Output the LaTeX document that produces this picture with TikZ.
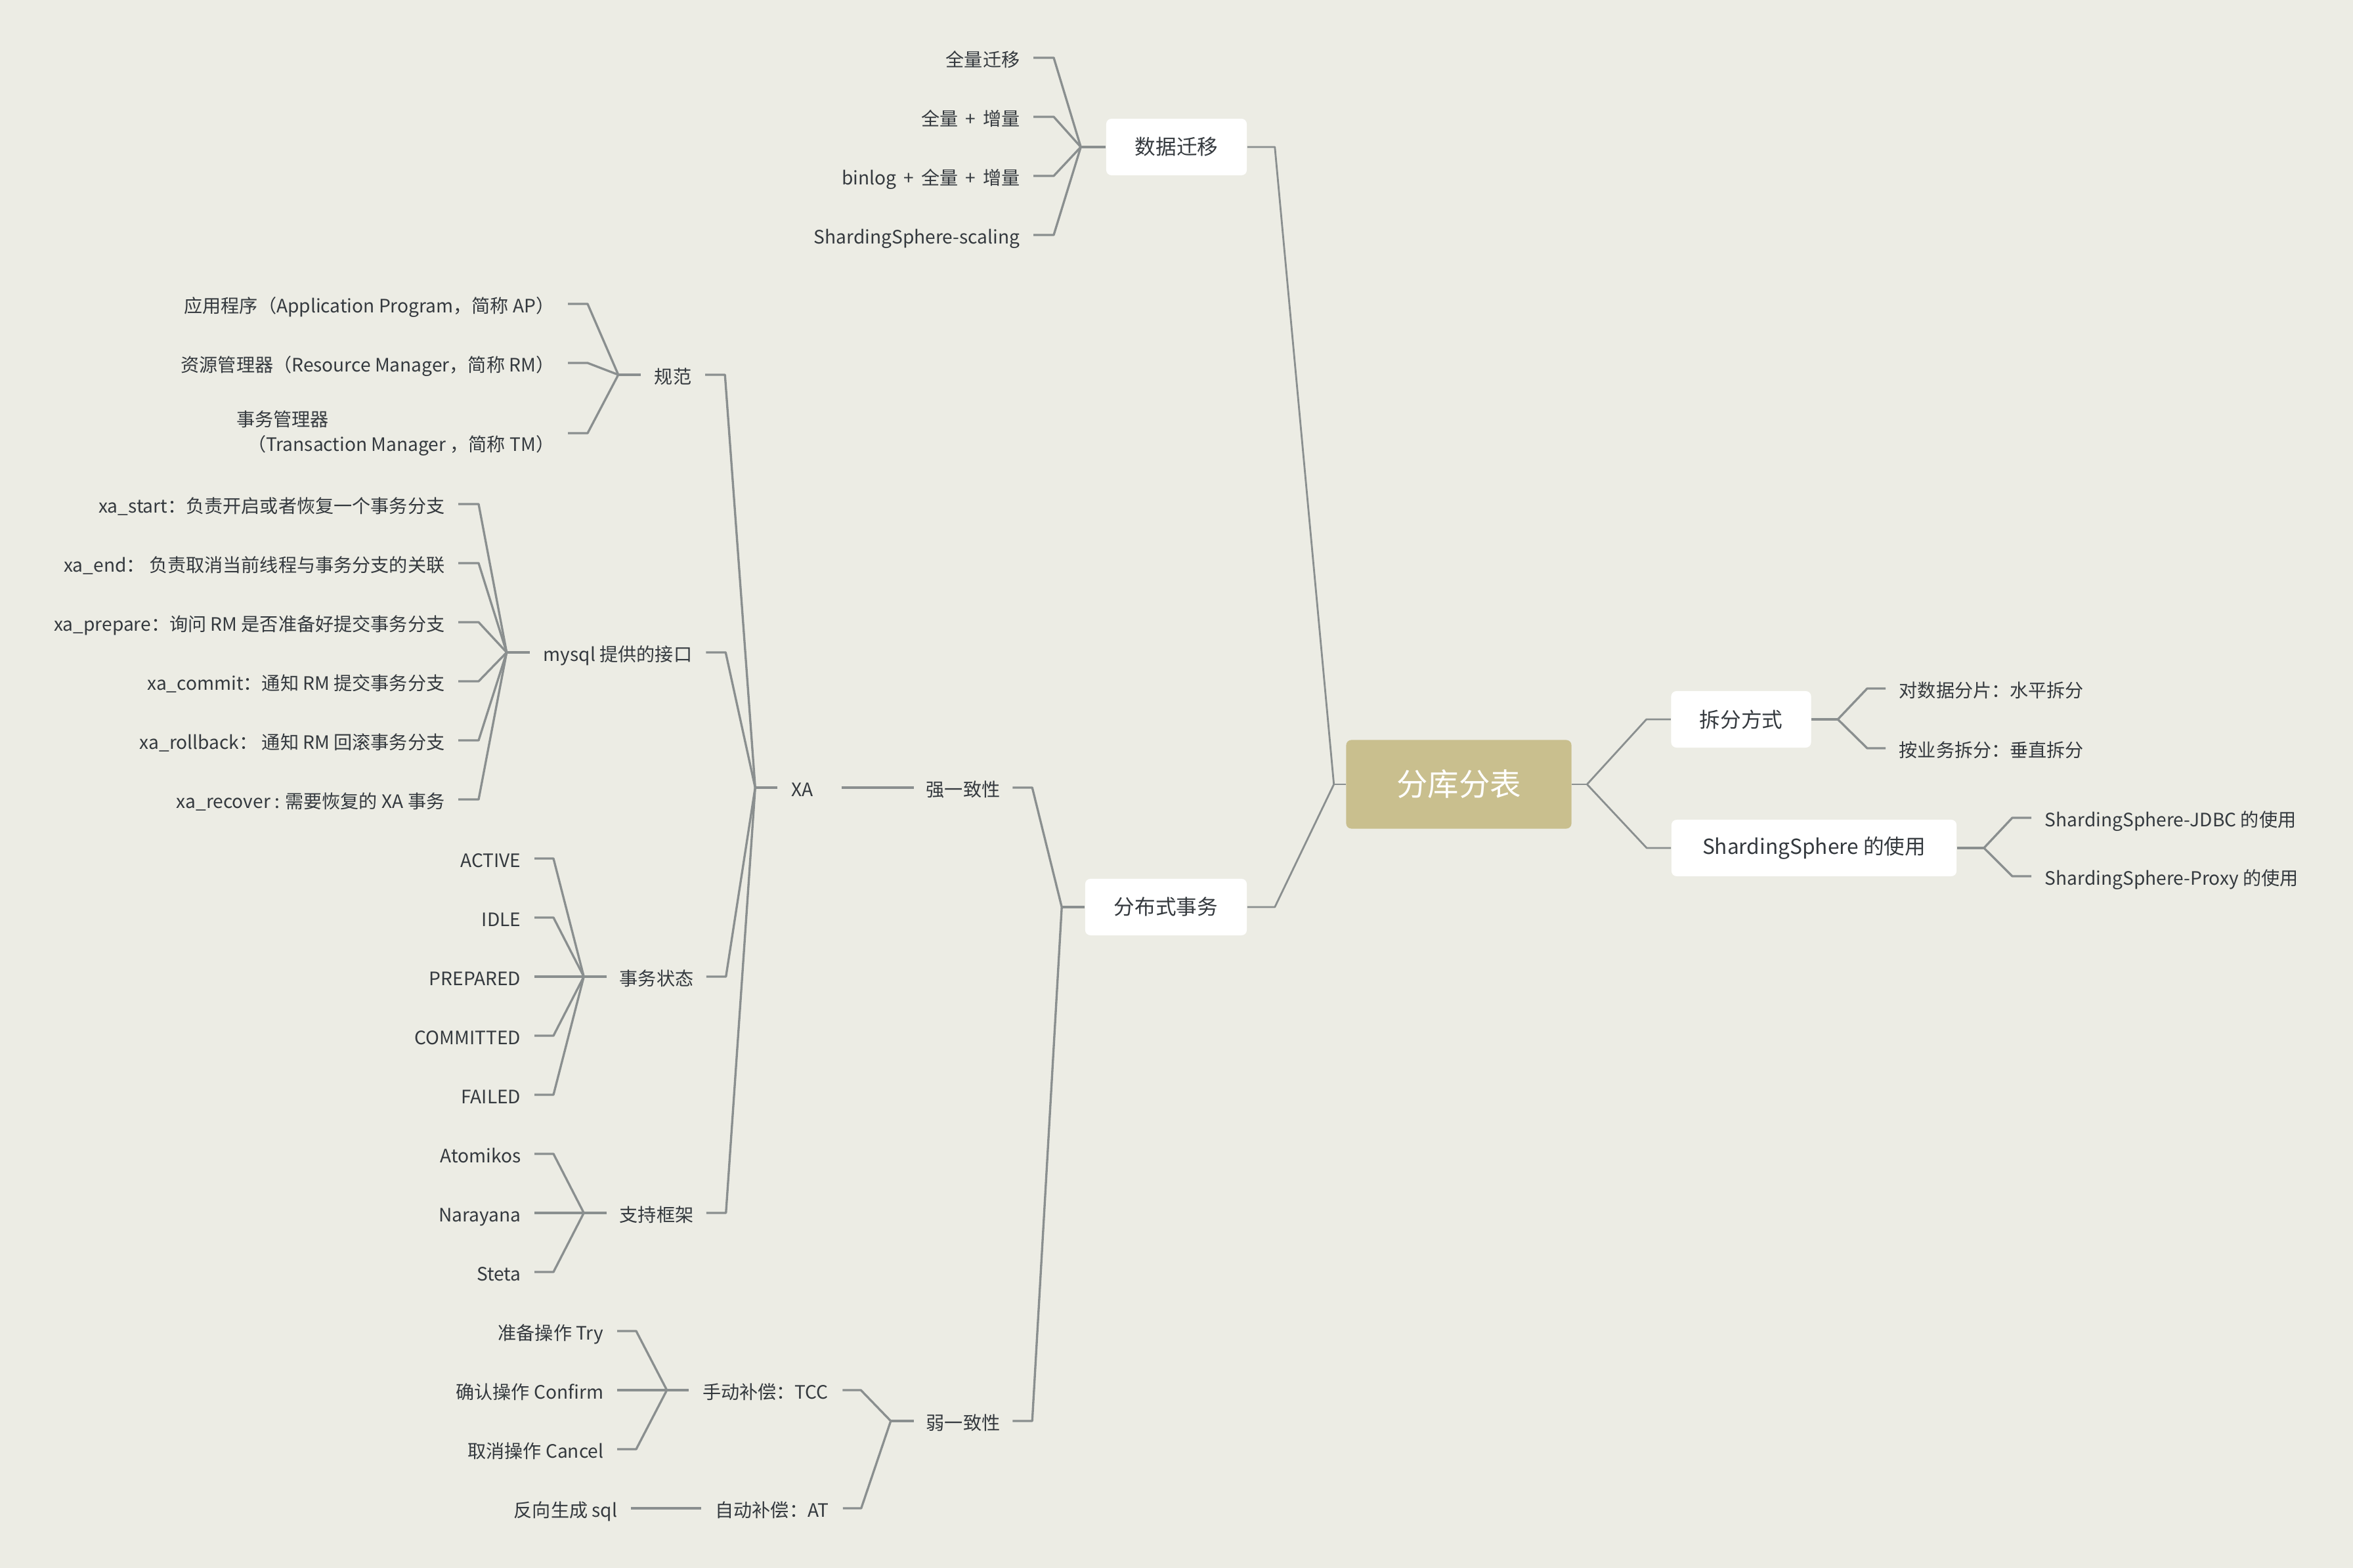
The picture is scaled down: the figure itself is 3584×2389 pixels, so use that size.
\documentclass[tikz,border=0pt]{standalone}
\usepackage{fontspec}
\setmainfont{Noto Sans CJK SC}
\usetikzlibrary{calc}
\definecolor{bgc}{RGB}{236,236,228}
\definecolor{linec}{RGB}{138,143,143}
\definecolor{txtc}{RGB}{52,57,62}
\definecolor{rootc}{RGB}{201,191,142}
\begin{document}
\begin{tikzpicture}[x=0.01cm,y=-0.01cm,
  conn/.style={draw=linec,line width=0.95pt,line join=round},
  mainconn/.style={draw=linec,line width=0.8pt,line join=round},
  txt/.style={inner ysep=0.05cm,text=txtc,font=\fontsize{8}{10.8}\selectfont,text height=0.8em,text depth=0.05em},
  leafL/.style={txt,inner xsep=0.2cm,anchor=east},
  leafR/.style={txt,inner xsep=0.2cm,anchor=west},
  mid/.style={txt,inner xsep=0.1cm},
  box/.style={fill=white,rounded corners=0.08cm,minimum height=0.86cm,inner xsep=0.3cm,text=txtc,font=\fontsize{9}{11}\selectfont},
  rootbox/.style={fill=rootc,rounded corners=0.08cm,minimum height=1.35cm,minimum width=3.43cm,text=white,font=\fontsize{13.5}{16}\selectfont}
]
\useasboundingbox (0,0) rectangle (3584,2389);
\fill[bgc] (0,0) rectangle (3584,2389);

% ---- root and boxes
\node[rootbox] (root) at (2222,1195) {分库分表};
\node[box,minimum width=2.14cm] (sjqy) at (1792,224) {数据迁移};
\node[box,minimum width=2.46cm] (fbs) at (1776,1382) {分布式事务};
\node[box,minimum width=2.13cm] (cffs) at (2652,1096) {拆分方式};
\node[box,minimum width=4.34cm] (ssuse) at (2763,1292) {ShardingSphere 的使用};

% ---- right leaves
\node[leafR] (c1) at (2872,1049) {对数据分片：水平拆分};
\node[leafR] (c2) at (2872,1140) {按业务拆分：垂直拆分};
\node[leafR] (s1) at (3094,1246) {ShardingSphere-JDBC 的使用};
\node[leafR] (s2) at (3094,1335) {ShardingSphere-Proxy 的使用};

% ---- data migration leaves
\node[leafL] (m1) at (1574,88) {全量迁移};
\node[leafL] (m2) at (1574,178) {全量\ \,+\ \,增量};
\node[leafL] (m3) at (1574,268) {binlog\ \,+\ \,全量\ \,+\ \,增量};
\node[leafL] (m4) at (1574,358) {ShardingSphere-scaling};

% ---- middle text nodes
\node[mid,minimum width=1.49cm] (qiang) at (1467,1200) {强一致性};
\node[mid,minimum width=1.49cm] (ruo) at (1467,2165) {弱一致性};
\node[mid,minimum width=0.74cm] (xa) at (1222,1200) {XA};
\node[mid,minimum width=0.97cm] (gf) at (1025,571) {规范};
\node[mid,minimum width=2.67cm] (mysql) at (941,994) {mysql 提供的接口};
\node[mid,minimum width=1.50cm] (zt) at (1000,1488) {事务状态};
\node[mid,minimum width=1.50cm] (kj) at (1000,1848) {支持框架};
\node[mid,minimum width=2.33cm] (tcc) at (1166,2118) {手动补偿：TCC};
\node[mid,minimum width=2.14cm] (at) at (1176,2298) {自动补偿：AT};

% ---- spec leaves
\node[leafL] (g1) at (865,463) {应用程序（Application Program，简称 AP）};
\node[leafL] (g2) at (865,553) {资源管理器（Resource Manager，简称 RM）};
\node[inner xsep=0.2cm,anchor=east,text=txtc,font=\fontsize{8}{10.8}\selectfont,align=left] (g3) at (865,660)
  {事务管理器\\\hspace*{0.17cm}（Transaction Manager ，简称 TM）};

% ---- mysql leaves
\node[leafL] (x1) at (698,768) {xa\_start：负责开启或者恢复一个事务分支};
\node[leafL] (x2) at (698,858) {xa\_end： 负责取消当前线程与事务分支的关联};
\node[leafL] (x3) at (698,948) {xa\_prepare：询问 RM 是否准备好提交事务分支};
\node[leafL] (x4) at (698,1038) {xa\_commit：通知 RM 提交事务分支};
\node[leafL] (x5) at (698,1128) {xa\_rollback： 通知 RM 回滚事务分支};
\node[leafL] (x6) at (698,1218) {xa\_recover : 需要恢复的 XA 事务};

% ---- state leaves
\node[leafL] (t1) at (814,1308) {ACTIVE};
\node[leafL] (t2) at (814,1398) {IDLE};
\node[leafL] (t3) at (814,1488) {PREPARED};
\node[leafL] (t4) at (814,1578) {COMMITTED};
\node[leafL] (t5) at (814,1668) {FAILED};

% ---- framework leaves
\node[leafL] (f1) at (814,1758) {Atomikos};
\node[leafL] (f2) at (814,1848) {Narayana};
\node[leafL] (f3) at (814,1938) {Steta};

% ---- TCC leaves
\node[leafL] (k1) at (940,2028) {准备操作 Try};
\node[leafL] (k2) at (940,2118) {确认操作 Confirm};
\node[leafL] (k3) at (940,2208) {取消操作 Cancel};
\node[leafL] (fx) at (961,2298) {反向生成 sql};

% ================= connectors
% root
\draw[mainconn] (root.west) -- ++(-18,0) coordinate (jr);
\draw[mainconn] (jr) -- ($(sjqy.east)+(42,0)$) -- (sjqy.east);
\draw[mainconn] (jr) -- ($(fbs.east)+(42,0)$) -- (fbs.east);
\draw[mainconn] (root.east) -- ++(23,0) coordinate (jr2);
\draw[mainconn] (jr2) -- ($(cffs.west)+(-37,0)$) -- (cffs.west);
\draw[mainconn] (jr2) -- ($(ssuse.west)+(-37,0)$) -- (ssuse.west);

% right forks
\draw[conn] (cffs.east) -- ++(40,0) coordinate (jc);
\foreach \c in {c1,c2} \draw[conn] (jc) -- ($(\c.west)+(-28,0)$) -- (\c.west);
\draw[conn] (ssuse.east) -- ++(41,0) coordinate (js);
\foreach \c in {s1,s2} \draw[conn] (js) -- ($(\c.west)+(-29,0)$) -- (\c.west);

% data migration
\draw[conn] (sjqy.west) -- ++(-38,0) coordinate (jm);
\foreach \c in {m1,m2,m3,m4} \draw[conn] (jm) -- ($(\c.east)+(31,0)$) -- (\c.east);

% distributed transactions
\draw[conn] (fbs.west) -- ++(-35,0) coordinate (jf);
\foreach \c in {qiang,ruo} \draw[conn] (jf) -- ($(\c.east)+(30,0)$) -- (\c.east);

% strong consistency -> XA
\draw[conn] ($(xa.east)+(22,0)$) -- (qiang.west);

% XA
\draw[conn] (xa.west) -- ++(-34,0) coordinate (jx);
\foreach \c in {gf,mysql,zt,kj} \draw[conn] (jx) -- ($(\c.east)+(30,0)$) -- (\c.east);

% spec
\draw[conn] (gf.west) -- ++(-34,0) coordinate (jg);
\foreach \c in {g1,g2,g3} \draw[conn] (jg) -- ($(\c.east)+(30,0)$) -- (\c.east);

% mysql
\draw[conn] (mysql.west) -- ++(-35,0) coordinate (jy);
\foreach \c in {x1,x2,x3,x4,x5,x6} \draw[conn] (jy) -- ($(\c.east)+(31,0)$) -- (\c.east);

% states
\draw[conn] (zt.west) -- ++(-35,0) coordinate (jz);
\foreach \c in {t1,t2,t3,t4,t5} \draw[conn] (jz) -- ($(\c.east)+(29,0)$) -- (\c.east);

% frameworks
\draw[conn] (kj.west) -- ++(-35,0) coordinate (jk);
\foreach \c in {f1,f2,f3} \draw[conn] (jk) -- ($(\c.east)+(29,0)$) -- (\c.east);

% weak consistency
\draw[conn] (ruo.west) -- ++(-35,0) coordinate (jw);
\foreach \c in {tcc,at} \draw[conn] (jw) -- ($(\c.east)+(28,0)$) -- (\c.east);

% TCC
\draw[conn] (tcc.west) -- ++(-33,0) coordinate (jt);
\foreach \c in {k1,k2,k3} \draw[conn] (jt) -- ($(\c.east)+(29,0)$) -- (\c.east);

% AT
\draw[conn] (fx.east) -- (at.west);
\end{tikzpicture}
\end{document}
